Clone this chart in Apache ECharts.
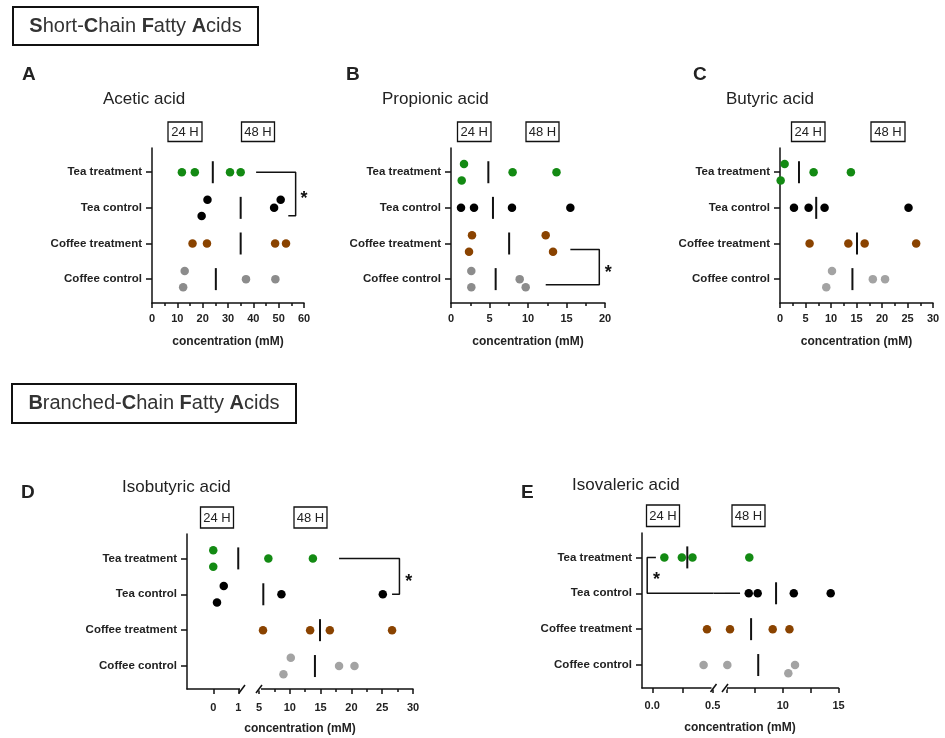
<!DOCTYPE html>
<html lang="en">
<head>
<meta charset="UTF-8">
<title>SCFA / BCFA</title>
<script src="https://cdn.jsdelivr.net/npm/echarts@6/dist/echarts.min.js"></script>
<style>
  *{margin:0;padding:0}
  html,body{width:100%;height:100%;background:#fff}
  #main{width:945px;height:738px}
</style>
</head>
<body>
<div id="main"></div>
<script>
var chart = echarts.init(document.getElementById('main'));

// rows from bottom to top
var cats = ['Coffee control', 'Coffee treatment', 'Tea control', 'Tea treatment'];

// 4 replicates per row (2 x 24 H then 2 x 48 H), rows in cats order
var aceticVals = [[12.9, 12.3, 37.1, 48.7], [16.0, 21.7, 48.6, 52.9], [21.9, 19.6, 50.8, 48.2], [11.8, 16.9, 30.8, 35.0]];
var aceticMed = [25.2, 35.0, 35.0, 24.0];
var aceticJit = [[1, -1, 0, 0], [0, 0, 0, 0], [1, -1, 1, 0], [0, 0, 0, 0]];

var propionicVals = [[2.64, 2.64, 8.92, 9.7], [2.73, 2.34, 12.3, 13.25], [1.3, 2.99, 7.92, 15.5], [1.69, 1.39, 8.0, 13.7]];
var propionicMed = [5.8, 7.55, 5.45, 4.85];
var propionicJit = [[1, -1, 0, -1], [1, -1, 1, -1], [0, 0, 0, 0], [1, -1, 0, 0]];

var butyricVals = [[10.2, 9.07, 18.2, 20.6], [5.8, 13.4, 16.6, 26.7], [2.74, 5.61, 8.74, 25.2], [0.91, 0.13, 6.59, 13.9]];
var butyricMed = [14.2, 15.1, 7.1, 3.72];
var butyricJit = [[1, -1, 0, 0], [0, 0, 0, 0], [0, 0, 0, 0], [1, -1, 0, 0]];

var isobutyricVals = [[10.16, 8.97, 18.0, 20.5], [5.65, 13.3, 16.5, 26.6], [0.42, 0.15, 8.64, 25.1], [0, 0, 6.52, 13.75]];
var isobutyricMed = [14.08, 14.9, 5.7, 1.0];
var isobutyricJit = [[1, -1, 0, 0], [0, 0, 0, 0], [1, -1, 0, 0], [1, -1, 0, 0]];

var isovalericVals = [[0.425, 5.03, 11.1, 10.5], [0.453, 5.27, 9.1, 10.6], [6.95, 7.75, 10.99, 14.3], [0.1, 0.245, 0.333, 7.0]];
var isovalericMed = [7.8, 7.16, 9.4, 0.29];
var isovalericJit = [[0, 0, 0, -1], [0, 0, 0, 0], [0, 0, 0, 0], [0, 0, 0, 0]];

// significance brackets [x, row]
var aceticBracket = [[41.1, 3], [56.7, 3], [56.7, 1.78], [53.8, 1.78]];
var propionicBracket = [[15.5, 0.83], [19.26, 0.83], [19.26, -0.16], [12.3, -0.16]];
var isobutyricBracket = [[18.0, 3], [27.8, 3], [27.8, 2], [26.6, 2]];
var isovalericBracketL = [[0.03, 3], [-0.042, 3], [-0.042, 2], [0.507, 2]];
var isovalericBracketR = [[4.82, 2], [6.17, 2]];

var FONT = 'Liberation Sans, Arial, sans-serif';
var JIT = 0.23;
var GREEN = '#138a13', BROWN = '#8a4300', BLACK = '#000000';

var panels = [
    {vals: aceticVals, med: aceticMed, jit: aceticJit, grey: '#8c8c8c', grids: [0]},
    {vals: propionicVals, med: propionicMed, jit: propionicJit, grey: '#8c8c8c', grids: [1]},
    {vals: butyricVals, med: butyricMed, jit: butyricJit, grey: '#a3a3a3', grids: [2]},
    {vals: isobutyricVals, med: isobutyricMed, jit: isobutyricJit, grey: '#a3a3a3', grids: [3, 4], split: 2},
    {vals: isovalericVals, med: isovalericMed, jit: isovalericJit, grey: '#a3a3a3', grids: [5, 6], split: 1}
];

var grids = [
    {left: 152, top: 148, width: 152, height: 155},
    {left: 451, top: 148, width: 154, height: 155},
    {left: 780, top: 148, width: 153, height: 155},
    {left: 187, top: 534, width: 55, height: 155},
    {left: 259, top: 534, width: 154, height: 155},
    {left: 642, top: 533, width: 71.5, height: 155},
    {left: 725, top: 533, width: 113.5, height: 155}
];

var axLine = {color: '#111', width: 1.5};

function xAx(gi, o) {
    var a = {
        type: 'value', gridIndex: gi, min: o.min, max: o.max,
        splitLine: {show: false},
        axisLine: {onZero: false, lineStyle: axLine},
        axisTick: {length: 5, lineStyle: axLine},
        minorTick: {show: !o.ticks, splitNumber: 2, length: 3, lineStyle: axLine},
        axisLabel: {fontSize: 11, fontWeight: 'bold', color: '#222', margin: o.margin || 10, fontFamily: FONT}
    };
    if (o.interval) a.interval = o.interval;
    if (o.ticks) {
        a.axisTick.customValues = o.ticks;
        a.axisLabel.customValues = o.labels;
        if (o.fmt) a.axisLabel.formatter = o.fmt;
    }
    if (o.name) {
        a.name = o.name;
        a.nameLocation = 'middle';
        a.nameGap = 33;
        a.nameTextStyle = {fontSize: 12, fontWeight: 'bold', color: '#222', fontFamily: FONT};
    }
    return a;
}

function yAx(gi, min, max, show) {
    return {
        type: 'value', gridIndex: gi, min: min, max: max, show: show,
        splitLine: {show: false},
        axisLine: {show: true, onZero: false, lineStyle: axLine},
        axisTick: {show: true, length: 6, customValues: [0, 1, 2, 3], lineStyle: axLine},
        axisLabel: {
            customValues: [0, 1, 2, 3],
            formatter: function (v) { return cats[Math.round(v)]; },
            fontSize: 11.5, fontWeight: 'bold', color: '#222', margin: 10, fontFamily: FONT
        }
    };
}

var xAxes = [
    xAx(0, {min: 0, max: 60, interval: 10, name: 'concentration (mM)'}),
    xAx(1, {min: 0, max: 20, interval: 5, name: 'concentration (mM)'}),
    xAx(2, {min: 0, max: 30, interval: 5, name: 'concentration (mM)'}),
    xAx(3, {min: -1.05, max: 1.15, ticks: [0, 1], labels: [0, 1], margin: 13}),
    xAx(4, {min: 5, max: 30, interval: 5, margin: 13}),
    xAx(5, {min: -0.085, max: 0.507, ticks: [0, 0.25, 0.5], labels: [0, 0.5], margin: 12,
        fmt: function (v) { return v.toFixed(1); }}),
    xAx(6, {min: 4.82, max: 15, ticks: [5, 7.5, 10, 12.5, 15], labels: [10, 15], margin: 12})
];

var yAxes = [
    yAx(0, -0.67, 3.68, true),
    yAx(1, -0.67, 3.68, true),
    yAx(2, -0.67, 3.68, true),
    yAx(3, -0.64, 3.68, true),
    yAx(4, -0.64, 3.68, false),
    yAx(5, -0.64, 3.68, true),
    yAx(6, -0.64, 3.68, false)
];

var series = [];

function sideOf(p, v) {
    return (p.split != null && v >= p.split) ? p.grids[1] : p.grids[0];
}

panels.forEach(function (p) {
    var rowColors = [p.grey, BROWN, BLACK, GREEN];
    for (var r = 0; r < 4; r++) {
        var byGrid = {};
        p.vals[r].forEach(function (v, k) {
            var g = sideOf(p, v);
            (byGrid[g] = byGrid[g] || []).push([v, r + p.jit[r][k] * JIT]);
        });
        Object.keys(byGrid).forEach(function (g) {
            series.push({
                type: 'scatter', xAxisIndex: +g, yAxisIndex: +g, clip: false, silent: true,
                symbolSize: 8.5, itemStyle: {color: rowColors[r], opacity: 1}, data: byGrid[g]
            });
        });
        var gm = sideOf(p, p.med[r]);
        series.push({
            type: 'scatter', xAxisIndex: gm, yAxisIndex: gm, clip: false, silent: true,
            symbol: 'rect', symbolSize: [2, 22], itemStyle: {color: '#111', opacity: 1},
            data: [[p.med[r], r]]
        });
    }
});

function bracket(g, pts) {
    series.push({
        type: 'line', xAxisIndex: g, yAxisIndex: g, clip: false, silent: true,
        symbol: 'none', lineStyle: {color: '#111', width: 1.5}, data: pts
    });
}
bracket(0, aceticBracket);
bracket(1, propionicBracket);
bracket(4, isobutyricBracket);
bracket(5, isovalericBracketL);
bracket(6, isovalericBracketR);

chart.setOption({
    animation: false,
    backgroundColor: '#fff',
    textStyle: {fontFamily: FONT},
    grid: grids,
    xAxis: xAxes,
    yAxis: yAxes,
    series: series
});

// annotations
var g = [];
function txt(x, y, s, size, weight, align) {
    g.push({type: 'text', x: x, y: y, style: {text: s, fontSize: size, fontWeight: weight || 'normal',
        fontFamily: FONT, fill: '#222', align: align || 'left', verticalAlign: 'middle'}});
}
function box(x, y, w, h, s) {
    g.push({type: 'rect', shape: {x: x, y: y, width: w, height: h},
        style: {fill: '#fff', stroke: '#111', lineWidth: 1.3}});
    txt(x + w / 2, y + h / 2 + 0.5, s, 13, 'normal', 'center');
}
function header(x, y, w, h, parts) {
    g.push({type: 'rect', shape: {x: x, y: y, width: w, height: h},
        style: {fill: '#fff', stroke: '#111', lineWidth: 2}});
    g.push({type: 'text', x: x + w / 2, y: y + h / 2, style: {
        text: parts, fontSize: 20, fontFamily: FONT, fill: '#333', align: 'center', verticalAlign: 'middle',
        rich: {b: {fontSize: 20, fontWeight: 'bold', fontFamily: FONT, fill: '#333'},
               n: {fontSize: 20, fontFamily: FONT, fill: '#333'}}
    }});
}

header(13, 7, 245, 38, '{b|S}{n|hort-}{b|C}{n|hain }{b|F}{n|atty }{b|A}{n|cids}');
header(12, 384, 284, 39, '{b|B}{n|ranched-}{b|C}{n|hain }{b|F}{n|atty }{b|A}{n|cids}');

txt(22, 75, 'A', 19, 'bold'); txt(346, 75, 'B', 19, 'bold'); txt(693, 75, 'C', 19, 'bold');
txt(21, 493, 'D', 19, 'bold'); txt(521, 493, 'E', 19, 'bold');

txt(103, 99, 'Acetic acid', 17);
txt(382, 99, 'Propionic acid', 17);
txt(726, 99, 'Butyric acid', 17);
txt(122, 487, 'Isobutyric acid', 17);
txt(572, 485, 'Isovaleric acid', 17);

box(168, 122, 34, 19.5, '24 H'); box(241.5, 122, 33, 19.5, '48 H');
box(457.5, 122, 33.5, 19.5, '24 H'); box(526, 122, 33, 19.5, '48 H');
box(791.5, 122, 33.5, 19.5, '24 H'); box(871, 122, 34, 19.5, '48 H');
box(200.5, 507, 33, 21, '24 H'); box(294, 507, 33, 21, '48 H');
box(646.5, 505, 33, 21.5, '24 H'); box(732, 505, 33, 21.5, '48 H');

txt(300, 729, 'concentration (mM)', 12, 'bold', 'center');
txt(740, 728, 'concentration (mM)', 12, 'bold', 'center');

// axis break marks at the inner ends of the split grids
[[3, 'r'], [4, 'l'], [5, 'r'], [6, 'l']].forEach(function (b) {
    var gr = grids[b[0]];
    var x = b[1] === 'r' ? gr.left + gr.width : gr.left;
    var y = gr.top + gr.height;
    g.push({type: 'rect', shape: {x: x - 2, y: y - 1.5, width: 4, height: 3}, style: {fill: '#fff'}, z: 100});
    g.push({type: 'line', shape: {x1: x - 3, y1: y + 4, x2: x + 3, y2: y - 4},
        style: {stroke: '#111', lineWidth: 1.5}, z: 101});
});

// E bracket crosses the axis break
var eL = chart.convertToPixel({gridIndex: 5}, isovalericBracketL[3]);
var eR = chart.convertToPixel({gridIndex: 6}, isovalericBracketR[0]);
g.push({type: 'line', shape: {x1: eL[0], y1: eL[1], x2: eR[0], y2: eR[1]},
    style: {stroke: '#111', lineWidth: 1.5}});

// significance stars
[[0, [60, 2.36]], [1, [20.43, 0.28]], [4, [29.3, 2.46]], [5, [0.036, 2.47]]].forEach(function (s) {
    var px = chart.convertToPixel({gridIndex: s[0]}, s[1]);
    g.push({type: 'text', x: px[0], y: px[1] + 4, style: {text: '*', fontSize: 18, fontWeight: 'bold',
        fontFamily: FONT, fill: '#111', align: 'center', verticalAlign: 'middle'}});
});

chart.setOption({graphic: g});
</script>
</body>
</html>
